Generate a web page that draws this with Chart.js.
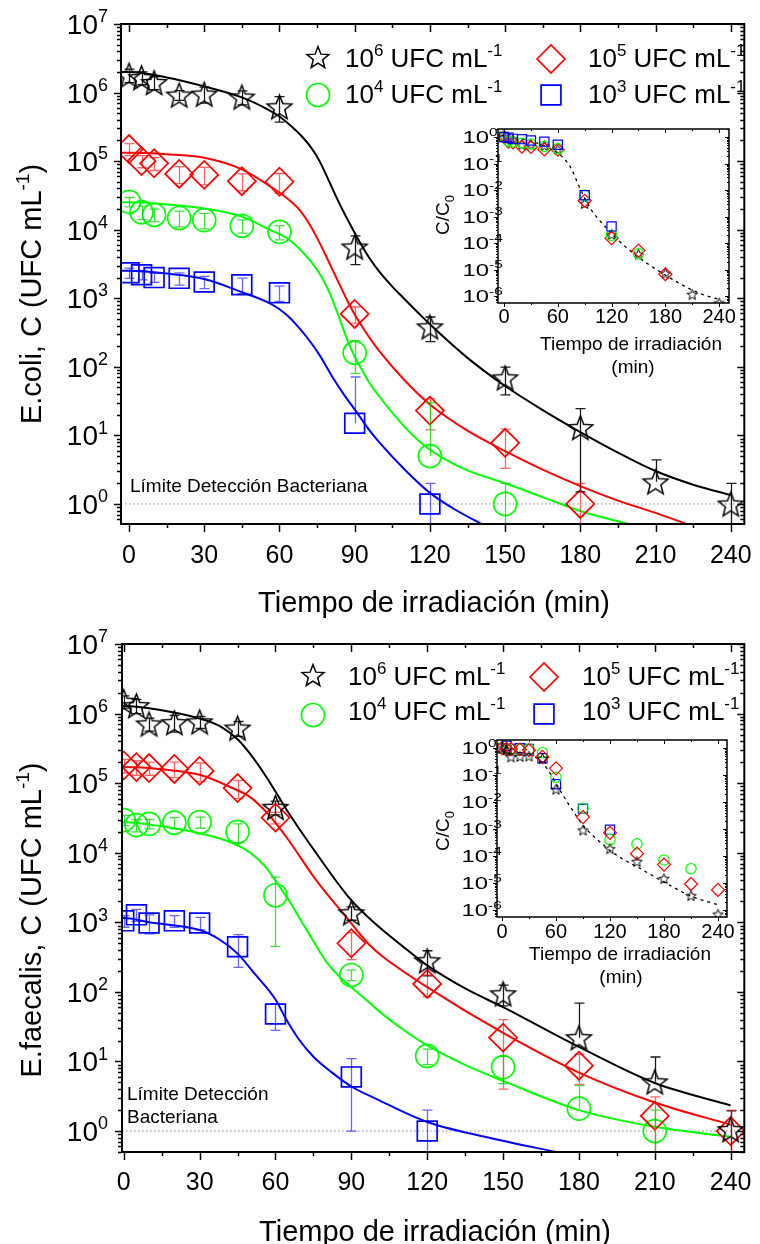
<!DOCTYPE html>
<html>
<head>
<meta charset="utf-8">
<script src="https://cdn.jsdelivr.net/npm/chart.js@4.4.1/dist/chart.umd.min.js"></script>
<style>
  html, body { margin: 0; padding: 0; background: #fff; }
  #hoja { position: relative; width: 760px; height: 1244px; overflow: hidden; background: #fff; }
  canvas { position: absolute; }
</style>
</head>
<body>
<div id="hoja">
  <canvas id="ecoli" width="760" height="620" style="left:0;top:0;width:760px;height:620px"></canvas>
  <canvas id="ecoliIn" width="335" height="290" style="left:420px;top:100px;width:335px;height:290px"></canvas>
  <canvas id="faec" width="760" height="624" style="left:0;top:620px;width:760px;height:624px"></canvas>
  <canvas id="faecIn" width="335" height="290" style="left:420px;top:715px;width:335px;height:290px"></canvas>
</div>
<script>
// ---------------- datos ----------------
const tiempos = [0, 5, 10, 20, 30, 45, 60, 90, 120, 150, 180, 210, 240];
const LIMITE = 1; // limite de deteccion (UFC/mL)

// E. coli, C (UFC/mL) y desviaciones
const coli_1e6 = [1.8e6, 1.65e6, 1.4e6, 9.2e5, 9.5e5, 8.6e5, 6.2e5, 5.6e3, 383, 69, 13, 2.1, 1.0];
const coli_1e6_sd = [4e5, 3.5e5, 3e5, 1.5e5, 2.5e5, 2e5, 2.5e5, 2.5e3, 150, 30, 11.5, 2.3, 1.0];
const coli_1e5 = [1.5e5, 1.0e5, 9.3e4, 6.5e4, 6.3e4, 5.1e4, 5.0e4, 590, 23, 7.8, 1.0];
const coli_1e5_sd = [3e4, 2e4, 2e4, 1.8e4, 1.8e4, 1.4e4, 1.6e4, 155, 11, 4.5, 1.0];
const coli_1e4 = [2.55e4, 1.8e4, 1.65e4, 1.48e4, 1.38e4, 1.14e4, 9.3e3, 160, 5.0, 1.0];
const coli_1e4_sd = [4e3, 4e3, 3.5e3, 3.8e3, 3.5e3, 2.5e3, 2.2e3, 80, 25, 1.0];
const coli_1e3 = [2.35e3, 2.2e3, 2.0e3, 1.95e3, 1.73e3, 1.57e3, 1.2e3, 15, 1.0];
const coli_1e3_sd = [400, 350, 300, 400, 350, 400, 300, 56, 1.0];

// curvas de ajuste E. coli
const coliAj6_t = [-3, 0, 15, 30, 45, 56, 60, 65, 69, 73, 76, 79, 82, 85, 88, 92, 96, 100, 105, 109, 115, 120, 135, 150, 165, 180, 195, 210, 225, 240];
const coliAj6 = [2.0e6, 2.0e6, 1.66e6, 1.23e6, 8.5e5, 5.5e5, 4.47e5, 3.16e5, 2.29e5, 1.51e5, 1.0e5, 5.89e4, 3.39e4, 2.0e4, 1.23e4, 6.61e3, 3.8e3, 2.4e3, 1.48e3, 1.05e3, 631, 417, 135, 52.5, 23.4, 11.2, 5.62, 3.02, 1.91, 1.35];
const coliAj5_t = [-3, 0, 15, 30, 45, 56, 64, 68, 72, 75, 78, 84, 89, 96, 100, 110, 120, 135, 150, 165, 180, 195, 210, 223];
const coliAj5 = [1.32e5, 1.32e5, 1.26e5, 1.12e5, 7.59e4, 4.37e4, 2.69e4, 1.95e4, 1.2e4, 7.59e3, 4.57e3, 1.58e3, 676, 263, 166, 63.1, 28.2, 11.7, 5.89, 3.16, 1.82, 1.12, 0.74, 0.5];
const coliAj4_t = [-3, 0, 15, 30, 45, 56, 64, 72, 76, 80, 84, 87, 90, 93, 96, 100, 105, 110, 115, 120, 127, 135, 150, 165, 180, 200];
const coliAj4 = [2.51e4, 2.51e4, 2.34e4, 2.04e4, 1.55e4, 1.0e4, 7.08e3, 3.63e3, 2.29e3, 1.2e3, 501, 251, 141, 89.1, 57.5, 36.3, 21.4, 13.2, 8.71, 6.17, 4.27, 3.09, 2.0, 1.26, 0.79, 0.5];
const coliAj3_t = [-3, 0, 15, 30, 45, 56, 60, 64, 68, 72, 76, 81, 86, 90, 96, 100, 110, 120, 130, 141];
const coliAj3 = [2.51e3, 2.51e3, 2.29e3, 1.91e3, 1.23e3, 851, 692, 525, 363, 240, 148, 72.4, 38.0, 24.0, 11.7, 7.76, 3.16, 1.45, 0.83, 0.5];

// E. faecalis, C (UFC/mL) y desviaciones
const faec_1e6 = [1.5e6, 1.3e6, 7.1e5, 7.4e5, 7.6e5, 6.2e5, 4.5e4, 1.37e3, 280, 94, 22, 5.1, 1.05];
const faec_1e6_sd = [3e5, 3e5, 1.5e5, 2e5, 1.5e5, 1.5e5, 1e4, 300, 110, 31, 47, 6.5, 0.9];
const faec_1e5 = [1.8e5, 1.7e5, 1.65e5, 1.6e5, 1.5e5, 8.5e4, 3.2e4, 500, 130, 22, 8.7, 1.65, 1.0];
const faec_1e5_sd = [4e4, 4e4, 3.5e4, 4e4, 4.5e4, 2.5e4, 6e3, 210, 45, 18, 4, 1.45, 1.0];
const faec_1e4 = [2.95e4, 2.5e4, 2.6e4, 2.7e4, 2.75e4, 2.0e4, 2.45e3, 175, 12, 8.3, 2.1, 1.0];
const faec_1e4_sd = [5e3, 5e3, 4e3, 5e3, 5e3, 6e3, 2e3, 30, 3, 3.5, 2.4, 1.0];
const faec_1e3 = [1.05e3, 1.28e3, 980, 1.05e3, 980, 445, 48, 6.0, 1.0];
const faec_1e3_sd = [200, 250, 300, 200, 200, 220, 20, 5, 1.0];

// curvas de ajuste E. faecalis
const faecAj6_t = [-1, 0, 15, 30, 38, 45, 50, 56, 60, 64, 76, 89, 97, 102, 115, 120, 135, 150, 180, 210, 240];
const faecAj6 = [1.29e6, 1.29e6, 1.12e6, 8.51e5, 6.61e5, 4.27e5, 2.63e5, 1.29e5, 7.59e4, 4.37e4, 1.0e4, 2.29e3, 1.15e3, 794, 331, 240, 112, 60.3, 16.2, 4.9, 2.34];
const faecAj5_t = [-1, 0, 15, 30, 43, 50, 56, 60, 65, 76, 89, 97, 102, 120, 150, 180, 210, 240];
const faecAj5 = [1.7e5, 1.7e5, 1.58e5, 1.32e5, 8.51e4, 6.31e4, 3.98e4, 2.69e4, 1.55e4, 4.07e3, 1.07e3, 479, 331, 117, 25.7, 6.92, 2.57, 1.23];
const faecAj4_t = [-1, 0, 15, 30, 43, 50, 56, 60, 65, 73, 80, 85, 90, 97, 101, 110, 120, 135, 150, 180, 210, 240];
const faecAj4 = [2.75e4, 2.75e4, 2.4e4, 1.91e4, 1.38e4, 1.0e4, 6.31e3, 3.98e3, 2.14e3, 708, 275, 170, 117, 70.8, 52.5, 29.5, 17.0, 8.91, 5.25, 2.0, 1.15, 0.83];
const faecAj3_t = [-1, 0, 10, 30, 38, 45, 52, 60, 64, 69, 75, 82, 90, 100, 120, 149, 171];
const faecAj3 = [1.15e3, 1.15e3, 1.0e3, 776, 562, 355, 178, 77.6, 41.7, 21.4, 11.7, 7.08, 4.37, 2.88, 1.35, 0.74, 0.5];

const ticksX = [0, 30, 60, 90, 120, 150, 180, 210, 240];
const ticksXmenor = [15, 45, 75, 105, 135, 165, 195, 225];
const ticksXin = [0, 60, 120, 180, 240];
const ticksXinMenor = [30, 90, 150, 210];

// ---------------- estilo ----------------
const FONT = '"Liberation Sans", Arial, Helvetica, sans-serif';
const NEGRO = '#000000', ROJO = '#ff0000', VERDE = '#00ff00', AZUL = '#0000ff';

function fuente(ctx, px) { ctx.font = px + 'px ' + FONT; }

// texto con tramos normales / superindice / subindice
function texto(ctx, partes, x, y, px, op) {
  op = op || {};
  const sx = op.sx || 1;
  const chico = op.chico || Math.round(px * 0.65);
  const sube = op.sube || px * 0.42;
  let w = 0;
  partes.forEach(p => { fuente(ctx, p[1] ? chico : px); w += ctx.measureText(p[0]).width; });
  let x0 = x;
  if (op.align === 'center') x0 = x - w * sx / 2;
  if (op.align === 'right') x0 = x - w * sx;
  ctx.save();
  ctx.translate(x0, y);
  ctx.scale(sx, 1);
  ctx.fillStyle = '#000';
  ctx.textAlign = 'left';
  ctx.textBaseline = 'alphabetic';
  let cx = 0;
  partes.forEach(p => {
    fuente(ctx, p[1] ? chico : px);
    const dy = p[1] === 'sup' ? -sube : (p[1] === 'sub' ? px * 0.25 : 0);
    ctx.fillText(p[0], cx, dy);
    cx += ctx.measureText(p[0]).width;
  });
  ctx.restore();
}

// etiqueta 10^n con el "10" terminando en xr
function pot10(ctx, n, xr, y, px, chico, sx) {
  fuente(ctx, px);
  const w = ctx.measureText('10').width * sx;
  texto(ctx, [['10', ''], [String(n), 'sup']], xr - w, y, px, { chico: chico, sx: sx });
}

function estrella(r, lw) {
  const s = Math.ceil(2 * r + 2 * lw + 4);
  const c = document.createElement('canvas');
  c.width = s; c.height = s;
  const g = c.getContext('2d');
  g.translate(s / 2, s / 2 + r * 0.1);
  g.beginPath();
  for (let k = 0; k < 10; k++) {
    const rr = k % 2 ? r * 0.43 : r;
    const ang = -Math.PI / 2 + k * Math.PI / 5;
    g.lineTo(rr * Math.cos(ang), rr * Math.sin(ang));
  }
  g.closePath();
  g.lineWidth = lw;
  g.lineJoin = 'miter';
  g.strokeStyle = '#000';
  g.stroke();
  return c;
}

const estGrande = estrella(13, 1.5);
const estLeyenda = estrella(11.5, 1.5);
const estChica = estrella(5.5, 1);

const estilos = {
  e6: { color: NEGRO, barra: 'rgba(0,0,0,0.9)', forma: estGrande, r: 13, leg: estLeyenda, rLeg: 11.5, chica: estChica, rChica: 5.5 },
  e5: { color: ROJO, barra: 'rgba(255,0,0,0.6)', forma: 'rectRot', r: 14, leg: 'rectRot', rLeg: 14, chica: 'rectRot', rChica: 6.5 },
  e4: { color: VERDE, barra: 'rgba(0,215,0,0.75)', forma: 'circle', r: 11.5, leg: 'circle', rLeg: 11.5, chica: 'circle', rChica: 5.2 },
  e3: { color: AZUL, barra: 'rgba(0,0,255,0.6)', forma: 'rect', r: 14, leg: 'rect', rLeg: 14, chica: 'rect', rChica: 6.5 },
};

function xy(ts, vs) { return vs.map((v, i) => ({ x: ts[i], y: v })); }

function linea(ctx, x1, y1, x2, y2) { ctx.moveTo(x1, y1); ctx.lineTo(x2, y2); }

// marcas logaritmicas (decadas y menores)
function marcasLog(ctx, a, y, mayor, menor) {
  const lo = y.min, hi = y.max;
  ctx.beginPath();
  for (let d = Math.floor(Math.log10(lo)); d <= Math.ceil(Math.log10(hi)); d++) {
    for (let m = 1; m <= 9; m++) {
      const v = m * Math.pow(10, d);
      if (v < lo * 0.999 || v > hi * 1.001) continue;
      const py = Math.round(y.getPixelForValue(v)) + 0.5;
      const L = m === 1 ? mayor : menor;
      linea(ctx, a.left - L, py, a.left, py);
      linea(ctx, a.right, py, a.right - L, py);
    }
  }
  ctx.stroke();
}

function marcasX(ctx, a, x, lista, L) {
  ctx.beginPath();
  lista.forEach(t => {
    const px = Math.round(x.getPixelForValue(t)) + 0.5;
    linea(ctx, px, a.bottom, px, a.bottom + L);
    linea(ctx, px, a.top, px, a.top + L);
  });
  ctx.stroke();
}

// ---------------- panel principal ----------------
function panel(cfg) {
  const datasets = [];
  cfg.series.forEach(s => {
    const e = estilos[s.est];
    datasets.push({
      type: 'scatter', data: xy(tiempos, s.vals),
      pointStyle: e.forma, pointRadius: e.r, pointBorderWidth: 1.7,
      borderColor: e.color, backgroundColor: 'rgba(0,0,0,0)', order: 1
    });
    datasets.push({
      type: 'line', data: xy(s.ajT, s.aj),
      borderColor: e.color, borderWidth: 2, pointRadius: 0, fill: false,
      cubicInterpolationMode: 'monotone', order: 2
    });
  });
  datasets.push({
    type: 'line', data: [{ x: cfg.xMin, y: LIMITE }, { x: cfg.xMax, y: LIMITE }],
    borderColor: '#8a8a8a', borderWidth: 1, borderDash: [1.5, 2.5], pointRadius: 0, order: 3
  });

  const decor = {
    id: 'decor',
    afterDatasetsDraw(chart) {
      const ctx = chart.ctx, a = chart.chartArea, x = chart.scales.x, y = chart.scales.y;
      ctx.save();
      ctx.beginPath();
      ctx.rect(a.left, a.top, a.right - a.left, a.bottom - a.top);
      ctx.clip();
      cfg.series.forEach(s => {
        ctx.strokeStyle = estilos[s.est].barra;
        ctx.lineWidth = 1.3;
        s.vals.forEach((v, i) => {
          const px = Math.round(x.getPixelForValue(tiempos[i])) + 0.5;
          const py = y.getPixelForValue(v);
          const pa = y.getPixelForValue(v + s.sd[i]);
          const bajo = v - s.sd[i];
          ctx.beginPath();
          linea(ctx, px, py, px, pa);
          linea(ctx, px - 5, pa, px + 5, pa);
          if (bajo > 0) {
            const pb = y.getPixelForValue(bajo);
            linea(ctx, px, py, px, pb);
            linea(ctx, px - 5, pb, px + 5, pb);
          } else if (bajo === 0) {
            linea(ctx, px, py, px, a.bottom);
          }
          ctx.stroke();
        });
      });
      ctx.restore();
    },
    afterDraw(chart) {
      const ctx = chart.ctx, a = chart.chartArea, x = chart.scales.x, y = chart.scales.y;
      ctx.save();
      ctx.strokeStyle = '#000';
      ctx.lineWidth = 2;
      ctx.strokeRect(a.left, a.top, a.right - a.left, a.bottom - a.top);
      ctx.lineWidth = 1.5;
      marcasLog(ctx, a, y, 7, 4);
      marcasX(ctx, a, x, ticksX, 8);
      marcasX(ctx, a, x, ticksXmenor, 4);

      // etiquetas de los ejes
      for (let d = 0; d <= 7; d++) {
        pot10(ctx, d, 98, y.getPixelForValue(Math.pow(10, d)) + 10, 28, 18, 1);
      }
      ticksX.forEach(t => {
        texto(ctx, [[String(t), '']], x.getPixelForValue(t), a.bottom + cfg.baseTicks, 25, { align: 'center' });
      });
      texto(ctx, [['Tiempo de irradiación (min)', '']], cfg.tituloX[0], cfg.tituloX[1], 29, { align: 'center' });
      ctx.save();
      ctx.translate(cfg.tituloY[0], cfg.tituloY[1]);
      ctx.rotate(-Math.PI / 2);
      texto(ctx, cfg.tituloYtexto, 0, 0, 29, { align: 'center', chico: 19, sube: 12 });
      ctx.restore();

      cfg.limite.forEach(l => texto(ctx, [[l[0], '']], l[1], l[2], 19));

      // leyenda
      cfg.leyenda.forEach(l => {
        const e = estilos[l.est];
        ctx.save();
        ctx.strokeStyle = e.color;
        ctx.fillStyle = 'rgba(0,0,0,0)';
        ctx.lineWidth = 1.7;
        Chart.helpers.drawPoint(ctx, { pointStyle: e.leg, radius: e.rLeg, rotation: 0, borderWidth: 1.7 }, l.mx, l.my);
        ctx.restore();
        texto(ctx, [['10', ''], [l.exp, 'sup'], [' UFC mL', ''], ['-1', 'sup']], l.tx, l.ty, 26, { chico: 17, sube: 11 });
      });
      ctx.restore();
    }
  };

  return new Chart(document.getElementById(cfg.canvas), {
    type: 'scatter',
    data: { datasets: datasets },
    options: {
      responsive: false, animation: false, devicePixelRatio: 1, events: [],
      layout: { padding: { left: 0, top: 24, right: 12, bottom: 0 } },
      plugins: { legend: { display: false }, tooltip: { enabled: false } },
      scales: {
        x: {
          type: 'linear', min: cfg.xMin, max: cfg.xMax,
          ticks: { display: false }, grid: { display: false }, border: { display: false },
          afterFit: s => { s.height = cfg.altoEjeX; }
        },
        y: {
          type: 'logarithmic', min: cfg.yMin, max: cfg.yMax,
          ticks: { display: false }, grid: { display: false }, border: { display: false },
          afterFit: s => { s.width = cfg.anchoEjeY; }
        }
      }
    },
    plugins: [decor]
  });
}

// ---------------- recuadro C/C0 ----------------
function recuadro(cfg) {
  const datasets = [];
  const c0 = cfg.series[0].vals[0];
  datasets.push({
    type: 'line', data: xy(cfg.series[0].ajT, cfg.series[0].aj.map(v => v / c0)),
    borderColor: '#000', borderWidth: 1.3, borderDash: [3, 4], pointRadius: 0, fill: false,
    cubicInterpolationMode: 'monotone', order: 10
  });
  cfg.series.forEach((s, k) => {
    const e = estilos[s.est];
    datasets.push({
      type: 'scatter', data: xy(tiempos, s.vals.map(v => v / s.vals[0])),
      pointStyle: e.chica, pointRadius: e.rChica, pointBorderWidth: 1.2,
      borderColor: e.color, backgroundColor: 'rgba(0,0,0,0)', order: cfg.orden[k]
    });
  });

  const decor = {
    id: 'decorIn',
    afterDraw(chart) {
      const ctx = chart.ctx, a = chart.chartArea, x = chart.scales.x, y = chart.scales.y;
      ctx.save();
      ctx.strokeStyle = '#000';
      ctx.lineWidth = 1.5;
      ctx.strokeRect(a.left, a.top, a.right - a.left, a.bottom - a.top);
      ctx.lineWidth = 1;
      marcasLog(ctx, a, y, 4, 2);
      marcasX(ctx, a, x, ticksXin, 4);
      marcasX(ctx, a, x, ticksXinMenor, 2);
      for (let d = -6; d <= 0; d++) {
        pot10(ctx, d, cfg.etiqY, y.getPixelForValue(Math.pow(10, d)) + 6, 17, 11, 1.4);
      }
      ticksXin.forEach(t => {
        texto(ctx, [[String(t), '']], x.getPixelForValue(t), cfg.baseTicks, 20, { align: 'center' });
      });
      texto(ctx, [['Tiempo de irradiación', '']], cfg.titulo[0], cfg.titulo[1], 19, { align: 'center' });
      texto(ctx, [['(min)', '']], cfg.titulo2[0], cfg.titulo2[1], 19, { align: 'center' });
      ctx.save();
      ctx.translate(cfg.tituloY[0], cfg.tituloY[1]);
      ctx.rotate(-Math.PI / 2);
      texto(ctx, [['C/C', ''], ['0', 'sub']], 0, 0, 19, { align: 'center', chico: 13 });
      ctx.restore();
      ctx.restore();
    }
  };

  return new Chart(document.getElementById(cfg.canvas), {
    type: 'scatter',
    data: { datasets: datasets },
    options: {
      responsive: false, animation: false, devicePixelRatio: 1, events: [],
      layout: { padding: { left: 0, top: cfg.arriba, right: cfg.der, bottom: 0 } },
      plugins: { legend: { display: false }, tooltip: { enabled: false } },
      scales: {
        x: {
          type: 'linear', min: cfg.xMin, max: cfg.xMax,
          ticks: { display: false }, grid: { display: false }, border: { display: false },
          afterFit: s => { s.height = cfg.altoEjeX; }
        },
        y: {
          type: 'logarithmic', min: cfg.yMin, max: cfg.yMax,
          ticks: { display: false }, grid: { display: false }, border: { display: false },
          afterFit: s => { s.width = cfg.izq; }
        }
      }
    },
    plugins: [decor]
  });
}

const seriesColi = [
  { est: 'e6', vals: coli_1e6, sd: coli_1e6_sd, ajT: coliAj6_t, aj: coliAj6 },
  { est: 'e5', vals: coli_1e5, sd: coli_1e5_sd, ajT: coliAj5_t, aj: coliAj5 },
  { est: 'e4', vals: coli_1e4, sd: coli_1e4_sd, ajT: coliAj4_t, aj: coliAj4 },
  { est: 'e3', vals: coli_1e3, sd: coli_1e3_sd, ajT: coliAj3_t, aj: coliAj3 },
];
const seriesFaec = [
  { est: 'e6', vals: faec_1e6, sd: faec_1e6_sd, ajT: faecAj6_t, aj: faecAj6 },
  { est: 'e5', vals: faec_1e5, sd: faec_1e5_sd, ajT: faecAj5_t, aj: faecAj5 },
  { est: 'e4', vals: faec_1e4, sd: faec_1e4_sd, ajT: faecAj4_t, aj: faecAj4 },
  { est: 'e3', vals: faec_1e3, sd: faec_1e3_sd, ajT: faecAj3_t, aj: faecAj3 },
];

panel({
  canvas: 'ecoli', series: seriesColi,
  xMin: -3.2, xMax: 245.4, yMin: 0.51, yMax: 1e7,
  anchoEjeY: 121, altoEjeX: 96, baseTicks: 39,
  tituloX: [434, 612], tituloY: [41, 294],
  tituloYtexto: [['E.coli, C (UFC mL', ''], ['-1', 'sup'], [')', '']],
  limite: [['Límite Detección Bacteriana', 130, 492]],
  leyenda: [
    { est: 'e6', exp: '6', mx: 318, my: 57, tx: 345, ty: 67 },
    { est: 'e5', exp: '5', mx: 551, my: 59, tx: 588, ty: 67 },
    { est: 'e4', exp: '4', mx: 318, my: 95, tx: 345, ty: 103 },
    { est: 'e3', exp: '3', mx: 551, my: 95, tx: 588, ty: 103 },
  ]
});

panel({
  canvas: 'faec', series: seriesFaec,
  xMin: -0.7, xMax: 245.4, yMin: 0.5, yMax: 1e7,
  anchoEjeY: 122, altoEjeX: 92, baseTicks: 38,
  tituloX: [435, 621], tituloY: [41, 300],
  tituloYtexto: [['E.faecalis, C (UFC mL', ''], ['-1', 'sup'], [')', '']],
  limite: [['Límite Detección', 127, 480], ['Bacteriana', 127, 503]],
  leyenda: [
    { est: 'e6', exp: '6', mx: 313, my: 55, tx: 348, ty: 65 },
    { est: 'e5', exp: '5', mx: 544, my: 57, tx: 582, ty: 65 },
    { est: 'e4', exp: '4', mx: 313, my: 95, tx: 348, ty: 100 },
    { est: 'e3', exp: '3', mx: 544, my: 94, tx: 582, ty: 100 },
  ]
});

recuadro({
  canvas: 'ecoliIn', series: seriesColi, orden: [4, 3, 2, 1],
  xMin: -6.7, xMax: 251, yMin: 5.5e-7, yMax: 2,
  izq: 78, der: 26, arriba: 29, altoEjeX: 87,
  etiqY: 69, baseTicks: 223,
  titulo: [211, 250], titulo2: [213, 273], tituloY: [29, 115]
});

recuadro({
  canvas: 'faecIn', series: seriesFaec, orden: [1, 2, 3, 4],
  xMin: -5.5, xMax: 250, yMin: 5.5e-7, yMax: 2,
  izq: 77, der: 28, arriba: 25, altoEjeX: 88,
  etiqY: 68, baseTicks: 223,
  titulo: [200, 245], titulo2: [201, 268], tituloY: [29, 116]
});
</script>
</body>
</html>
